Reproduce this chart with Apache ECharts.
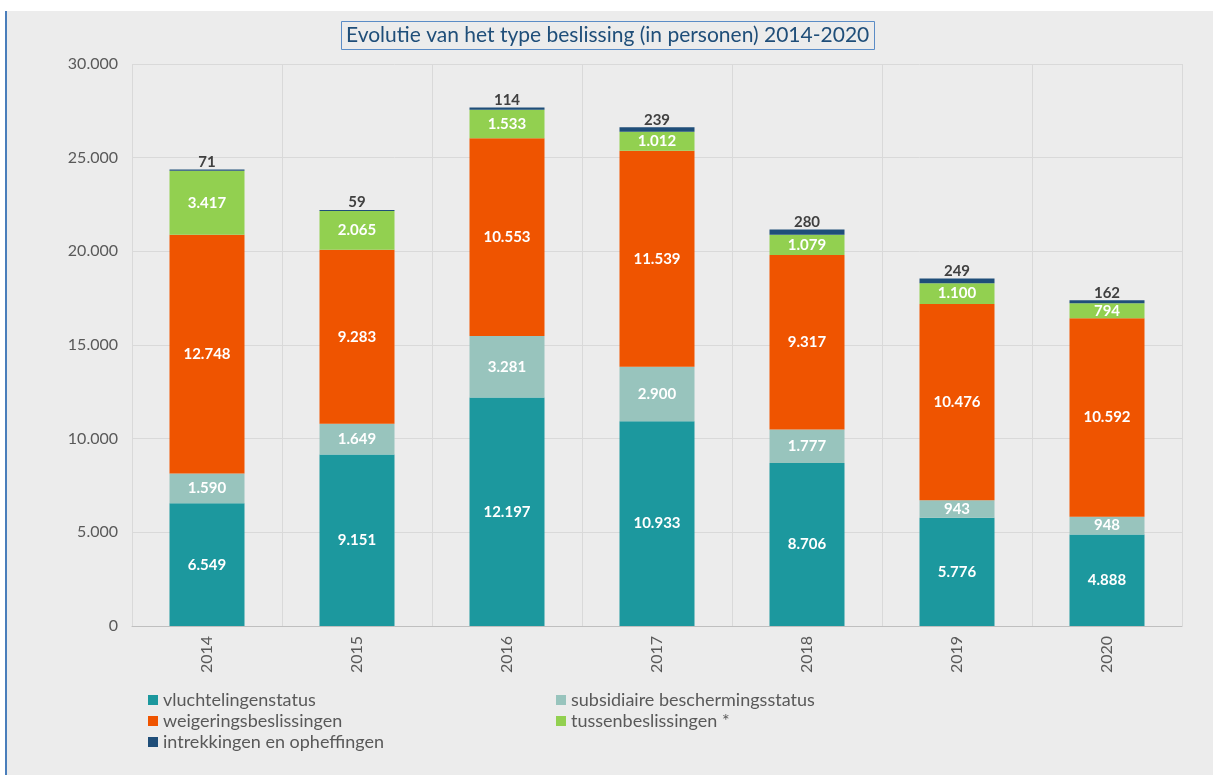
<!DOCTYPE html>
<html>
<head>
<meta charset="utf-8">
<script src="https://cdn.jsdelivr.net/npm/echarts@6/dist/echarts.min.js"></script>
<style>
html,body{margin:0;padding:0;background:#ffffff;}
#bg{position:absolute;left:5px;top:11px;width:1206px;height:764px;background:#ececec;border-left:2px solid #4a7ebb;}
#chart{position:absolute;left:0;top:0;width:1213px;height:775px;}
</style>
</head>
<body>
<div id="bg"></div>
<div id="chart"></div>
<script>
const categories = ['2014','2015','2016','2017','2018','2019','2020'];
const vluchtelingenstatus = [6549, 9151, 12197, 10933, 8706, 5776, 4888];
const subsidiaire = [1590, 1649, 3281, 2900, 1777, 943, 948];
const weigeringen = [12748, 9283, 10553, 11539, 9317, 10476, 10592];
const tussenbeslissingen = [3417, 2065, 1533, 1012, 1079, 1100, 794];
const intrekkingen = [71, 59, 114, 239, 280, 249, 162];
const seriesNames = ['vluchtelingenstatus','subsidiaire beschermingsstatus','weigeringsbeslissingen','tussenbeslissingen *','intrekkingen en opheffingen'];
const yTicks = [0, 5000, 10000, 15000, 20000, 25000, 30000];

const FONT = 'Lato, "Noto Sans", sans-serif';
function fmt(v){ return String(v).replace(/\B(?=(\d{3})+(?!\d))/g, '.'); }

const colors = ['#1c989e','#98c4bd','#ef5400','#92d050','#1f4e79'];
const dataSets = [vluchtelingenstatus, subsidiaire, weigeringen, tussenbeslissingen, intrekkingen];

const series = dataSets.map((d, i) => ({
  name: seriesNames[i],
  type: 'bar',
  stack: 'total',
  barWidth: '50%',
  data: d,
  itemStyle: { color: colors[i] },
  label: i < 4 ? {
    show: true, position: 'inside', color: '#ffffff', fontWeight: 'bold',
    fontSize: 15, fontFamily: FONT, formatter: p => fmt(p.value)
  } : {
    show: true, position: 'top', distance: 0, color: '#404040', fontWeight: 'bold',
    fontSize: 15, fontFamily: FONT, formatter: p => fmt(p.value)
  }
}));

const legendText = { color: '#595959', fontSize: 18, fontFamily: FONT, lineHeight: 18 };

const chart = echarts.init(document.getElementById('chart'), null, {renderer: 'canvas'});
chart.setOption({
  backgroundColor: 'transparent',
  animation: false,
  title: {
    text: 'Evolutie van het type beslissing (in personen) 2014-2020',
    left: 341, top: 21,
    padding: [4, 5, 4, 5],
    borderWidth: 1, borderColor: '#5b8cc6',
    textStyle: { color: '#1f4e79', fontSize: 21, fontWeight: 'normal', fontFamily: FONT }
  },
  legend: [{
    data: [seriesNames[0], seriesNames[2], seriesNames[4]],
    orient: 'vertical', left: 143, top: 686, itemGap: 3,
    itemWidth: 10, itemHeight: 10, icon: 'rect',
    textStyle: legendText
  }, {
    data: [seriesNames[1], seriesNames[3]],
    orient: 'vertical', left: 551, top: 686, itemGap: 3,
    itemWidth: 10, itemHeight: 10, icon: 'rect',
    textStyle: legendText
  }],
  grid: { left: 132, right: 31, top: 64, bottom: 149, containLabel: false },
  xAxis: {
    type: 'category', data: categories,
    axisLine: { show: true, lineStyle: { color: '#bfbfbf' } },
    axisTick: { show: false },
    splitLine: { show: true, lineStyle: { color: '#d9d9d9' } },
    axisLabel: { rotate: 90, color: '#595959', fontSize: 16, fontFamily: FONT, margin: 10 }
  },
  yAxis: {
    type: 'value', min: 0, max: 30000, interval: 5000,
    axisLine: { show: false }, axisTick: { show: false },
    splitLine: { show: true, lineStyle: { color: '#d9d9d9' } },
    axisLabel: { color: '#595959', fontSize: 16, fontFamily: FONT, margin: 14,
      formatter: v => yTicks.includes(v) ? fmt(v) : '' }
  },
  series: series
});
</script>
</body>
</html>
